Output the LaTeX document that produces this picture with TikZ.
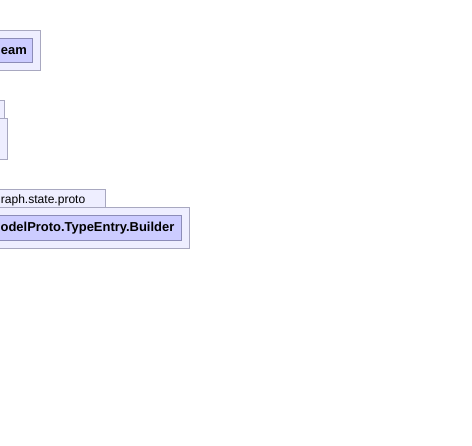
\documentclass[tikz,border=0pt]{standalone}
\usepackage{fontspec}
\setmainfont{Liberation Sans}
\definecolor{pkgfill}{HTML}{EEEEFF}
\definecolor{pkgline}{HTML}{A8A8C0}
\definecolor{clsfill}{HTML}{CCCCFF}
\definecolor{clsline}{HTML}{8C8CB8}
\begin{document}
\begin{tikzpicture}[x=1bp,y=-1bp,
  pkg/.style={draw=pkgline,fill=pkgfill,line width=1bp},
  cls/.style={draw=clsline,fill=clsfill,line width=1bp},
  boldlbl/.style={inner sep=0pt,font=\fontsize{13}{15}\selectfont\bfseries},
  tablbl/.style={inner sep=0pt,font=\fontsize{12.1}{14}\selectfont}]
\useasboundingbox[fill=white] (0,0) rectangle (472,446);
% box 1
\path[pkg] (-5,30.5) rectangle (40.5,70.5);
\path[cls] (-5,38.5) rectangle (32.5,62.5);
\node[boldlbl,anchor=east] (t1) at (27,51) {eam};
% box 2
\path[pkg] (-5,100.5) rectangle (4.5,118.5);
\path[pkg] (-5,118.5) rectangle (7.5,159.5);
% box 3
\path[pkg] (-5,189.5) rectangle (105.5,207.5);
\path[pkg] (-5,207.5) rectangle (189.5,248.5);
\path[cls] (-5,215.5) rectangle (181.5,240.5);
\node[tablbl,anchor=base east] (t2) at (85.5,203.5) {raph.state.proto};
\node[boldlbl,anchor=east] (t3) at (174.5,228.5) {odelProto.TypeEntry.Builder};
\end{tikzpicture}
\end{document}
